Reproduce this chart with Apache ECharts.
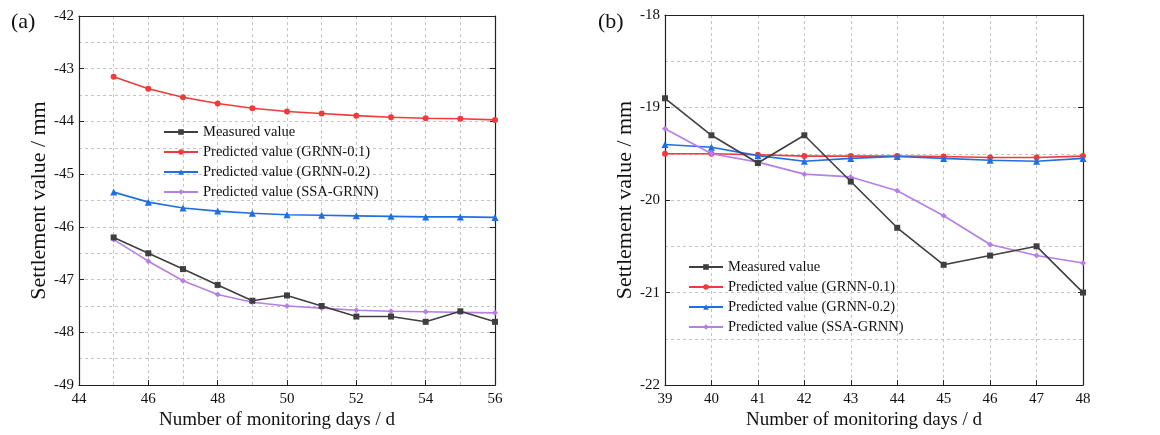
<!DOCTYPE html>
<html><head><meta charset="utf-8">
<script src="https://cdn.jsdelivr.net/npm/echarts@6/dist/echarts.min.js"></script>
<style>html,body{margin:0;padding:0;background:#fff}#c{width:1160px;height:435px}</style>
</head><body><div id="c"></div>
<script>
// Panel (a)
const daysA = [45, 46, 47, 48, 49, 50, 51, 52, 53, 54, 55, 56];
const measuredA = [-46.2, -46.5, -46.8, -47.1, -47.4, -47.3, -47.5, -47.7, -47.7, -47.8, -47.6, -47.8];
const grnn01A = [-43.15, -43.38, -43.54, -43.66, -43.75, -43.81, -43.85, -43.89, -43.92, -43.94, -43.95, -43.97];
const grnn02A = [-45.34, -45.53, -45.64, -45.70, -45.74, -45.77, -45.78, -45.79, -45.80, -45.81, -45.81, -45.82];
const ssaA = [-46.24, -46.65, -47.02, -47.28, -47.43, -47.50, -47.54, -47.58, -47.60, -47.61, -47.62, -47.63];
// Panel (b)
const daysB = [39, 40, 41, 42, 43, 44, 45, 46, 47, 48];
const measuredB = [-18.90, -19.30, -19.60, -19.30, -19.80, -20.30, -20.70, -20.60, -20.50, -21.00];
const grnn01B = [-19.50, -19.50, -19.51, -19.525, -19.525, -19.525, -19.53, -19.54, -19.54, -19.525];
const grnn02B = [-19.40, -19.43, -19.52, -19.58, -19.55, -19.53, -19.55, -19.57, -19.58, -19.55];
const ssaB = [-19.23, -19.50, -19.59, -19.72, -19.75, -19.90, -20.17, -20.48, -20.60, -20.68];

const names = ['Measured value', 'Predicted value (GRNN-0.1)', 'Predicted value (GRNN-0.2)', 'Predicted value (SSA-GRNN)'];
const colors = ['#3f3f3f', '#f23a3a', '#1f6fe3', '#b57fe6'];
const symbols = ['rect', 'circle', 'triangle', 'diamond'];

const FONT = '"Liberation Serif", "Times New Roman", serif';
const gridLine = { type: [3, 3], color: '#c4c4c4', width: 1 };
const axisLineStyle = { color: '#222', width: 1.2 };

function bottomAxis(gi, min, max, interval, minor) {
  return {
    type: 'value', gridIndex: gi, position: 'bottom', min, max, interval,
    axisLine: { show: true, onZero: false, lineStyle: axisLineStyle },
    axisTick: { show: true, inside: true, length: 5, lineStyle: { color: '#222' } },
    axisLabel: { color: '#111', fontFamily: FONT, fontSize: 15, margin: 6 },
    splitLine: { show: true, lineStyle: gridLine },
    minorTick: { show: false, splitNumber: minor },
    minorSplitLine: { show: minor > 1, lineStyle: gridLine },
    name: 'Number of monitoring days / d', nameLocation: 'middle', nameGap: 23,
    nameTextStyle: { color: '#111', fontFamily: FONT, fontSize: 19, padding: [0, 20, 0, 0] }
  };
}
function topAxis(gi, min, max) {
  return {
    type: 'value', gridIndex: gi, position: 'top', min, max,
    axisLine: { show: true, onZero: false, lineStyle: axisLineStyle },
    axisTick: { show: false }, axisLabel: { show: false }, splitLine: { show: false }
  };
}
function leftAxis(gi, min, max) {
  return {
    type: 'value', gridIndex: gi, position: 'left', min, max, interval: 1,
    axisLine: { show: true, onZero: false, lineStyle: axisLineStyle },
    axisTick: { show: true, inside: true, length: 5, lineStyle: { color: '#222' } },
    axisLabel: { color: '#111', fontFamily: FONT, fontSize: 15, margin: 5 },
    splitLine: { show: true, lineStyle: gridLine },
    minorTick: { show: false, splitNumber: 2 },
    minorSplitLine: { show: true, lineStyle: gridLine },
    name: 'Settlement value / mm', nameLocation: 'middle', nameGap: 24,
    nameTextStyle: { color: '#111', fontFamily: FONT, fontSize: 22 }
  };
}
function rightAxis(gi, min, max) {
  return {
    type: 'value', gridIndex: gi, position: 'right', min, max, interval: 1,
    axisLine: { show: true, onZero: false, lineStyle: axisLineStyle },
    axisTick: { show: true, inside: true, length: 5, lineStyle: { color: '#222' } },
    axisLabel: { show: false }, splitLine: { show: false }
  };
}

function mkSeries(days, arrs, xi, yi) {
  return arrs.map((arr, k) => ({
    name: names[k], type: 'line', xAxisIndex: xi, yAxisIndex: yi,
    data: days.map((d, i) => [d, arr[i]]),
    symbol: symbols[k], symbolSize: k === 2 ? 7 : 6,
    itemStyle: { color: colors[k] },
    lineStyle: { color: colors[k], width: 1.6 },
    z: k === 0 ? 3 : 2
  }));
}

const legendCommon = {
  orient: 'vertical', itemWidth: 34, itemHeight: 7, itemGap: 4, padding: 0,
  textStyle: { color: '#111', fontFamily: FONT, fontSize: 14.5, lineHeight: 16 },
  data: names
};

const option = {
  animation: false,
  backgroundColor: '#fff',
  title: [
    { text: '(a)', left: 6, top: 6, textStyle: { fontFamily: FONT, fontSize: 22, fontWeight: 'normal', color: '#111' } },
    { text: '(b)', left: 593, top: 6, textStyle: { fontFamily: FONT, fontSize: 22, fontWeight: 'normal', color: '#111' } }
  ],
  grid: [
    { left: 79, top: 16, width: 416, height: 372 },
    { left: 665, top: 15, width: 418, height: 375 }
  ],
  xAxis: [
    bottomAxis(0, 44, 56, 2, 2), topAxis(0, 44, 56),
    bottomAxis(1, 39, 48, 1, 1), topAxis(1, 39, 48)
  ],
  yAxis: [
    leftAxis(0, -49, -42), rightAxis(0, -49, -42),
    leftAxis(1, -22, -18), rightAxis(1, -22, -18)
  ],
  legend: [
    Object.assign({ left: 163, top: 124 }, legendCommon),
    Object.assign({ left: 688, top: 259 }, legendCommon)
  ],
  series: [
    ...mkSeries(daysA, [measuredA, grnn01A, grnn02A, ssaA], 0, 0),
    ...mkSeries(daysB, [measuredB, grnn01B, grnn02B, ssaB], 2, 2)
  ]
};
echarts.init(document.getElementById('c'), null, { renderer: 'canvas' }).setOption(option);
</script></body></html>
